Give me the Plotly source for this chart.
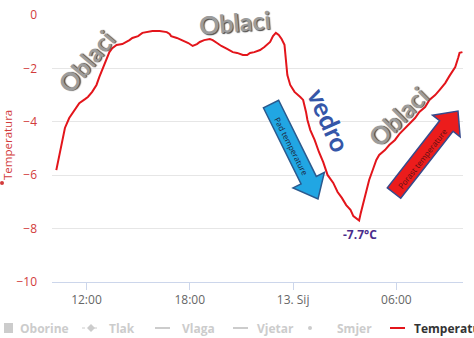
import math
import plotly.graph_objects as go

# ---------------- data ----------------
times = [
    "2024-01-12 10:15", "2024-01-12 10:25", "2024-01-12 10:35", "2024-01-12 10:45",
    "2024-01-12 11:00", "2024-01-12 11:20", "2024-01-12 11:35", "2024-01-12 11:55",
    "2024-01-12 12:05", "2024-01-12 12:20", "2024-01-12 12:35", "2024-01-12 12:45",
    "2024-01-12 12:55", "2024-01-12 13:05", "2024-01-12 13:10", "2024-01-12 13:20",
    "2024-01-12 13:30", "2024-01-12 13:45", "2024-01-12 14:05", "2024-01-12 14:20",
    "2024-01-12 14:30", "2024-01-12 14:40", "2024-01-12 15:00", "2024-01-12 15:15",
    "2024-01-12 15:35", "2024-01-12 15:50", "2024-01-12 16:15", "2024-01-12 16:40",
    "2024-01-12 16:50", "2024-01-12 16:55", "2024-01-12 17:15", "2024-01-12 17:35",
    "2024-01-12 17:55", "2024-01-12 18:10", "2024-01-12 18:25", "2024-01-12 18:35",
    "2024-01-12 18:50", "2024-01-12 19:10", "2024-01-12 19:20", "2024-01-12 19:35",
    "2024-01-12 19:50", "2024-01-12 20:10", "2024-01-12 20:30", "2024-01-12 20:45",
    "2024-01-12 21:05", "2024-01-12 21:20", "2024-01-12 21:30", "2024-01-12 21:45",
    "2024-01-12 22:05", "2024-01-12 22:20", "2024-01-12 22:40", "2024-01-12 22:50",
    "2024-01-12 23:00", "2024-01-12 23:10", "2024-01-12 23:20", "2024-01-12 23:30",
    "2024-01-12 23:35", "2024-01-12 23:40", "2024-01-12 23:50", "2024-01-13 00:05",
    "2024-01-13 00:25", "2024-01-13 00:35", "2024-01-13 00:45", "2024-01-13 00:50",
    "2024-01-13 01:00", "2024-01-13 01:15", "2024-01-13 01:30", "2024-01-13 01:45",
    "2024-01-13 02:00", "2024-01-13 02:20", "2024-01-13 02:35", "2024-01-13 02:50",
    "2024-01-13 03:05", "2024-01-13 03:20", "2024-01-13 03:30", "2024-01-13 03:45",
    "2024-01-13 03:50", "2024-01-13 03:55", "2024-01-13 04:05", "2024-01-13 04:15",
    "2024-01-13 04:25", "2024-01-13 04:40", "2024-01-13 04:50", "2024-01-13 05:00",
    "2024-01-13 05:20", "2024-01-13 05:35", "2024-01-13 05:55", "2024-01-13 06:10",
    "2024-01-13 06:30", "2024-01-13 06:45", "2024-01-13 07:05", "2024-01-13 07:20",
    "2024-01-13 07:40", "2024-01-13 07:55", "2024-01-13 08:15", "2024-01-13 08:30",
    "2024-01-13 08:50", "2024-01-13 09:05", "2024-01-13 09:25", "2024-01-13 09:35",
    "2024-01-13 09:40", "2024-01-13 09:50",
]
temperature = [
    -5.81, -5.24, -4.68, -4.23, -3.86, -3.56, -3.30, -3.15,
    -3.07, -2.88, -2.62, -2.32, -2.06, -1.76, -1.61, -1.39,
    -1.24, -1.12, -1.09, -1.01, -0.94, -0.86, -0.79, -0.67,
    -0.64, -0.60, -0.60, -0.64, -0.71, -0.79, -0.86, -0.94,
    -1.05, -1.16, -1.09, -1.01, -0.94, -0.90, -0.94, -1.05,
    -1.16, -1.27, -1.39, -1.42, -1.50, -1.50, -1.42, -1.39,
    -1.31, -1.20, -1.01, -0.79, -0.67, -0.75, -0.90, -1.12,
    -1.69, -2.25, -2.62, -2.88, -3.07, -3.18, -3.63, -3.93,
    -4.31, -4.68, -5.13, -5.51, -5.99, -6.29, -6.63, -6.85,
    -7.12, -7.30, -7.53, -7.68, -7.70, -7.45, -7.04, -6.63,
    -6.18, -5.73, -5.43, -5.24, -5.06, -4.87, -4.68, -4.46,
    -4.23, -4.08, -3.86, -3.63, -3.45, -3.18, -3.00, -2.81,
    -2.55, -2.28, -1.95, -1.61, -1.42, -1.39,
]
x_tick_vals = ["2024-01-12 12:00", "2024-01-12 18:00", "2024-01-13 00:00", "2024-01-13 06:00"]
x_tick_text = ["12:00", "18:00", "13. Sij", "06:00"]
y_tick_vals = [0, -2, -4, -6, -8, -10]
legend_names = ["Oborine", "Tlak", "Vlaga", "Vjetar", "Smjer", "Temperatura"]
min_label = "-7.7°C"

# ---------------- layout geometry (pixels) ----------------
W, H = 474, 338
PL, PR, PT, PB = 52, 463, 15, 282


def px(x):
    return (x - PL) / (PR - PL)


def py(y):
    return (PB - y) / (PB - PT)


def arrow_path(tail, tip, w, hw, hl):
    dx, dy = tip[0] - tail[0], tip[1] - tail[1]
    L = math.hypot(dx, dy)
    ux, uy = dx / L, dy / L
    nx, ny = -uy, ux
    bx, by = tip[0] - ux * hl, tip[1] - uy * hl
    pts = [
        (tail[0] + nx * w / 2, tail[1] + ny * w / 2),
        (bx + nx * w / 2, by + ny * w / 2),
        (bx + nx * hw / 2, by + ny * hw / 2),
        tip,
        (bx - nx * hw / 2, by - ny * hw / 2),
        (bx - nx * w / 2, by - ny * w / 2),
        (tail[0] - nx * w / 2, tail[1] - ny * w / 2),
    ]
    return "M " + " L ".join(f"{px(a):.4f},{py(b):.4f}" for a, b in pts) + " Z"


RED = "#e3151b"
AXRED = "#d23b3b"

fig = go.Figure()
fig.add_trace(go.Scatter(
    x=times, y=temperature, mode="lines",
    line=dict(color=RED, width=2), name="Temperatura", showlegend=False,
    hoverinfo="skip",
))

fig.update_layout(
    width=W, height=H,
    margin=dict(l=PL, r=W - PR, t=PT, b=H - PB),
    paper_bgcolor="white", plot_bgcolor="white",
    showlegend=False,
    font=dict(family="Open Sans", size=12, color="#666666"),
    xaxis=dict(
        type="date",
        range=["2024-01-12 10:00", "2024-01-13 09:52"],
        tickvals=x_tick_vals, ticktext=x_tick_text,
        ticks="outside", ticklen=7, tickcolor="#ccd6eb", tickwidth=1,
        showgrid=False, zeroline=False,
        showline=True, linecolor="#ccd6eb", linewidth=1,
        tickfont=dict(color="#666666", size=12),
        automargin=False, fixedrange=True,
    ),
    yaxis=dict(
        range=[-10, 0], tickvals=y_tick_vals,
        showgrid=True, gridcolor="#e6e6e6", gridwidth=1,
        zeroline=False, showline=False, ticks="",
        ticklabelstandoff=14,
        tickfont=dict(color=AXRED, size=12),
        automargin=False, fixedrange=True,
    ),
)

annotations = []
shapes = []

# y-axis title
annotations.append(dict(
    x=px(7), y=py(145), xref="paper", yref="paper", text="Temperatura",
    textangle=-90, showarrow=False, font=dict(color=AXRED, size=11.5),
    xanchor="center", yanchor="middle",
))
shapes.append(dict(type="circle", xref="paper", yref="paper",
                   x0=px(0), x1=px(4), y0=py(185), y1=py(181),
                   fillcolor=AXRED, line=dict(width=0)))

# WordArt-like texts
word_font = dict(family="Lato", size=25, color="#9c9c9c", weight="bold",
                 shadow="1px 1px 1px #4a4a4a")
for (cx, cy, ang) in [(86, 61, -50), (235, 22, -5), (398, 116, -45)]:
    annotations.append(dict(
        x=px(cx), y=py(cy), xref="paper", yref="paper", text="Oblaci",
        textangle=ang, showarrow=False, font=word_font,
        xanchor="center", yanchor="middle",
    ))
annotations.append(dict(
    x=px(329), y=py(120), xref="paper", yref="paper", text="vedro",
    textangle=66, showarrow=False,
    font=dict(family="Lato", size=26, color="#3556a8", weight="bold"),
    xanchor="center", yanchor="middle",
))

# arrows
blue_tail, blue_tip = (271, 104), (318, 199)
red_tail, red_tip = (394, 193), (458, 111)
shapes.append(dict(type="path", xref="paper", yref="paper",
                   path=arrow_path(blue_tail, blue_tip, 17, 35, 21),
                   fillcolor="#21a6e3", line=dict(color="#2b5a8e", width=1.5)))
shapes.append(dict(type="path", xref="paper", yref="paper",
                   path=arrow_path(red_tail, red_tip, 17, 35, 19),
                   fillcolor="#ec1c1c", line=dict(color="#364a8c", width=1.5)))
annotations.append(dict(
    x=px(292), y=py(146), xref="paper", yref="paper", text="Pad temperature",
    textangle=63, showarrow=False, font=dict(family="Open Sans", size=8, color="#1b1f3a"),
    xanchor="center", yanchor="middle",
))
annotations.append(dict(
    x=px(422), y=py(158), xref="paper", yref="paper", text="Porast temperature",
    textangle=-52, showarrow=False, font=dict(family="Open Sans", size=8, color="#5a1010"),
    xanchor="center", yanchor="middle",
))

# minimum label
annotations.append(dict(
    x=px(360), y=py(234), xref="paper", yref="paper", text=min_label,
    showarrow=False, font=dict(family="Open Sans", size=12, color="#4a2c8c", weight="bold"),
    xanchor="center", yanchor="middle",
))

# legend (drawn manually to reproduce the clipped last entry)
LY = 328
leg_font_off = dict(family="Open Sans", size=12, color="#cccccc", weight="bold")
leg_font_on = dict(family="Open Sans", size=12, color="#333333", weight="bold")
text_x = [18, 107, 180, 255, 335, 412]
for name, tx in zip(legend_names, text_x):
    annotations.append(dict(
        x=px(tx), y=py(LY), xref="paper", yref="paper", text=name,
        showarrow=False, xanchor="left", yanchor="middle",
        font=leg_font_on if name == "Temperatura" else leg_font_off,
    ))
# symbols
shapes.append(dict(type="rect", xref="paper", yref="paper",
                   x0=px(4), x1=px(13), y0=py(323), y1=py(333),
                   fillcolor="#cccccc", line=dict(width=0)))
shapes.append(dict(type="line", xref="paper", yref="paper",
                   x0=px(82), x1=px(100), y0=py(LY), y1=py(LY),
                   line=dict(color="#cccccc", width=1, dash="dot")))
shapes.append(dict(type="path", xref="paper", yref="paper",
                   path=f"M {px(91):.4f},{py(LY-4):.4f} L {px(95):.4f},{py(LY):.4f} L {px(91):.4f},{py(LY+4):.4f} L {px(87):.4f},{py(LY):.4f} Z",
                   fillcolor="#cccccc", line=dict(width=0)))
for x0, x1 in [(155, 170), (233, 248)]:
    shapes.append(dict(type="line", xref="paper", yref="paper",
                       x0=px(x0), x1=px(x1), y0=py(LY), y1=py(LY),
                       line=dict(color="#cccccc", width=2)))
shapes.append(dict(type="circle", xref="paper", yref="paper",
                   x0=px(308), x1=px(312), y0=py(LY + 2), y1=py(LY - 2),
                   fillcolor="#cccccc", line=dict(width=0)))
shapes.append(dict(type="line", xref="paper", yref="paper",
                   x0=px(390), x1=px(405), y0=py(LY), y1=py(LY),
                   line=dict(color=RED, width=2)))

fig.update_layout(annotations=annotations, shapes=shapes)
fig.write_html("out.html")
